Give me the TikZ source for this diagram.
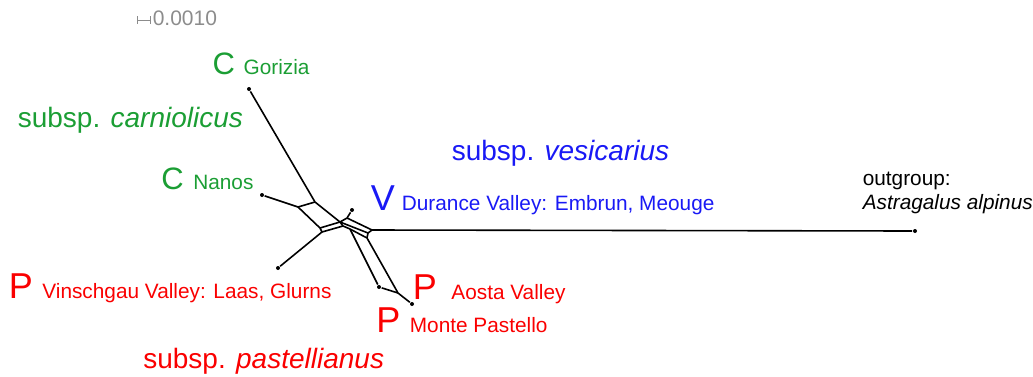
\documentclass[tikz,border=0pt]{standalone}
\usepackage{fontspec}
\setmainfont{Liberation Sans}
\usetikzlibrary{positioning}
\definecolor{cgreen}{RGB}{27,158,52}
\definecolor{vblue}{RGB}{25,25,245}
\definecolor{pred}{RGB}{250,0,0}
\definecolor{scalegray}{RGB}{140,140,140}

\begin{document}
\begin{tikzpicture}[x=1pt, y=-1pt, line width=1.6pt, line join=round,
        leaf/.style = {circle, fill, inner sep=0pt, minimum size=4pt},
        big/.style = {inner sep=0pt, anchor=base west, font=\fontsize{36}{36}\selectfont},
        bigc/.style = {big, font=\fontsize{31}{31}\selectfont},
        small/.style = {inner sep=0pt, font=\fontsize{20.8}{20.8}\selectfont},
        subsp/.style = {inner sep=0pt, anchor=base west, font=\fontsize{28}{28}\selectfont}]
        \useasboundingbox (0,0) rectangle (1033,376);

        \node[leaf] (1) at (249,89) {};
        \node[leaf] (2) at (262,195) {};
        \node[leaf] (3) at (278,268) {};
        \node[leaf] (4) at (352,210) {};
        \node[leaf] (5) at (915,231) {};
        \node[leaf] (6) at (379,287) {};
        \node[leaf] (7) at (412,304) {};

        \coordinate (8) at (315,202);
        \coordinate (9) at (298,207);
        \coordinate (10) at (320,228);
        \coordinate (11) at (340,222);
        \coordinate (12) at (322,232);
        \coordinate (13) at (343,226);
        \coordinate (14) at (347,218);
        \coordinate (15) at (372,230);
        \coordinate (16) at (368,233);
        \coordinate (17) at (350,229);
        \coordinate (18) at (367,238);
        \coordinate (19) at (398,293);

        \draw (1) -- (8);
        \draw (2) -- (9);
        \draw (8) -- (9);
        \draw (8) -- (11);
        \draw (9) -- (10);
        \draw (10) -- (11);
        \draw (10) -- (12);
        \draw (12) -- (13);
        \draw (11) -- (13);
        \draw (3) -- (12);

        \draw (4) -- (14);
        \draw (11) -- (14);
        \draw (14) -- (15);
        \draw (11) -- (16);
        \draw (13) -- (17);
        \draw (17) -- (18);
        \draw (15) -- (16);
        \draw (16) -- (18);
        \draw (15) -- (5);

        \draw (17) -- (6);
        \draw (18) -- (19);
        \draw (6) -- (19);
        \draw (19) -- (7);

        \coordinate (s1) at (137,20);
        \coordinate (s2) at (151,20);
        \draw[scalegray, line width=1pt, |-|] (s1) -- (s2);
        \node[small, scalegray, anchor=base west, font=\fontsize{21}{21}\selectfont] (scale) at (152,25) {0.0010};

        \node[bigc, cgreen] (c1) at (211.8,74) {C};
        \node[small, cgreen, base right=7pt of c1] (gorizia) {Gorizia};
        \node[bigc, cgreen] (c2) at (160.5,189) {C};
        \node[small, cgreen, base right=8pt of c2] (nanos) {Nanos};
        \node[subsp, cgreen] (carn) at (17,127) {subsp. \textit{carniolicus}};

        \node[big, vblue] (v1) at (370,210) {V};
        \node[small, vblue, base right=5.5pt of v1] (durance) {Durance Valley: Embrun, Meouge};
        \node[subsp, vblue] (vesi) at (451,160) {subsp. \textit{vesicarius}};

        \node[small, anchor=base west] (out) at (862,185) {outgroup:};
        \node[small, anchor=base west] (alpinus) at (862,209) {\textit{Astragalus alpinus}};

        \node[big, pred] (p1) at (8,298) {P};
        \node[small, pred, base right=8pt of p1] (vinsch) {Vinschgau Valley: Laas, Glurns};
        \node[big, pred] (p2) at (412,299) {P};
        \node[small, pred, base right=13pt of p2] (aosta) {Aosta Valley};
        \node[big, pred] (p3) at (375.5,332.5) {P};
        \node[small, pred, base right=8pt of p3] (monte) {Monte Pastello};
        \node[subsp, pred] (past) at (142.5,368) {subsp. \textit{pastellianus}};

    \end{tikzpicture}
\end{document}
